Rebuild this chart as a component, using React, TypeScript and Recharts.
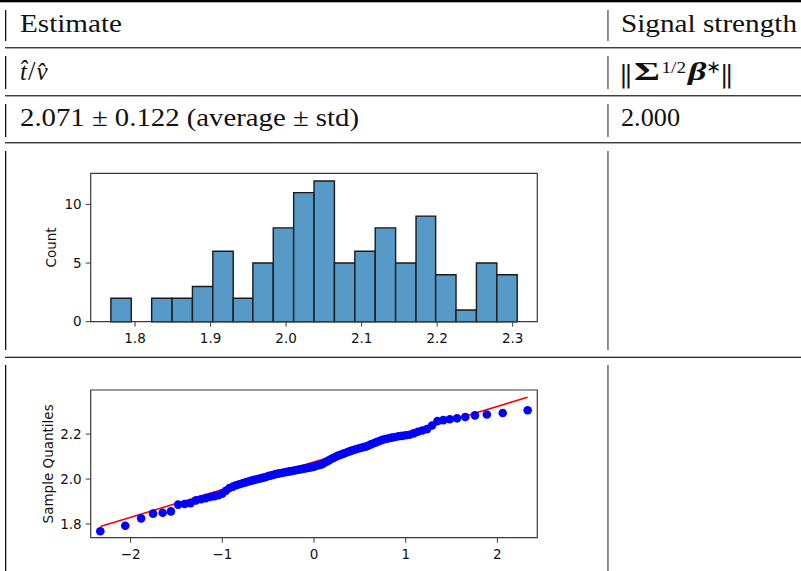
import {
  ComposedChart,
  Scatter,
  Line,
  XAxis,
  YAxis,
  ReferenceArea,
} from "recharts";

// histogram of the 100 estimates (20 bins)
const binEdges = [
  1.768, 1.795, 1.822, 1.849, 1.876, 1.903, 1.93, 1.956, 1.983, 2.01, 2.037,
  2.064, 2.091, 2.118, 2.145, 2.172, 2.198, 2.225, 2.252, 2.279, 2.306,
];
const binCounts = [2, 0, 2, 2, 3, 6, 2, 5, 8, 11, 12, 5, 6, 8, 5, 9, 4, 1, 5, 4];
const histTicks = [1.8, 1.9, 2.0, 2.1, 2.2, 2.3];
const countTicks = [0, 5, 10];

// normal probability plot
const theoreticalQuantiles = [
  -2.33, -2.058, -1.885, -1.755, -1.65, -1.56, -1.481, -1.41, -1.346, -1.287,
  -1.232, -1.181, -1.133, -1.087, -1.043, -1.001, -0.961, -0.922, -0.885, -0.849,
  -0.814, -0.779, -0.746, -0.714, -0.682, -0.651, -0.621, -0.591, -0.562, -0.533,
  -0.505, -0.477, -0.449, -0.422, -0.395, -0.368, -0.342, -0.316, -0.29, -0.264,
  -0.238, -0.213, -0.187, -0.162, -0.137, -0.112, -0.087, -0.062, -0.037, -0.012,
  0.012, 0.037, 0.062, 0.087, 0.112, 0.137, 0.162, 0.187, 0.213, 0.238,
  0.264, 0.29, 0.316, 0.342, 0.368, 0.395, 0.422, 0.449, 0.477, 0.505,
  0.533, 0.562, 0.591, 0.621, 0.651, 0.682, 0.714, 0.746, 0.779, 0.814,
  0.849, 0.885, 0.922, 0.961, 1.001, 1.043, 1.087, 1.133, 1.181, 1.232,
  1.287, 1.346, 1.41, 1.481, 1.56, 1.65, 1.755, 1.885, 2.058, 2.33,
];
const sampleQuantiles = [
  1.768, 1.792, 1.825, 1.846, 1.85, 1.856, 1.886, 1.889, 1.892, 1.905,
  1.91, 1.915, 1.92, 1.924, 1.928, 1.935, 1.948, 1.96, 1.966, 1.972,
  1.977, 1.981, 1.985, 1.989, 1.993, 1.996, 1.999, 2.002, 2.005, 2.008,
  2.012, 2.015, 2.018, 2.021, 2.024, 2.026, 2.028, 2.03, 2.032, 2.034,
  2.036, 2.038, 2.04, 2.042, 2.044, 2.046, 2.048, 2.05, 2.052, 2.054,
  2.057, 2.06, 2.063, 2.066, 2.071, 2.077, 2.083, 2.089, 2.094, 2.099,
  2.104, 2.108, 2.112, 2.116, 2.12, 2.124, 2.128, 2.131, 2.135, 2.138,
  2.141, 2.144, 2.148, 2.154, 2.159, 2.164, 2.169, 2.174, 2.178, 2.181,
  2.184, 2.187, 2.19, 2.192, 2.195, 2.197, 2.203, 2.21, 2.216, 2.222,
  2.238, 2.258, 2.262, 2.266, 2.27, 2.276, 2.283, 2.287, 2.294, 2.306,
];
const fitLineX = [-2.33, 2.33];
const fitLineY = [1.789, 2.364];
const qqXTicks = [-2, -1, 0, 1, 2];
const qqYTicks = [1.8, 2.0, 2.2];

const histData = binCounts.map((count, i) => ({
  lo: binEdges[i],
  hi: binEdges[i + 1],
  mid: (binEdges[i] + binEdges[i + 1]) / 2,
  count,
}));
const qqData = theoreticalQuantiles.map((x, i) => ({ x, y: sampleQuantiles[i] }));
const fitData = fitLineX.map((x, i) => ({ x, y: fitLineY[i] }));

const histX: [number, number] = [1.7413, 2.3326];
const histY: [number, number] = [0, 12.65];
const qqX: [number, number] = [-2.435, 2.435];
const qqY: [number, number] = [1.739, 2.396];

const axisColor = "#3a3a3a";
const tickFont = { fontFamily: "DejaVu Sans", fontSize: 13.5, fill: "#111" };
const labelStyle = { textAnchor: "middle", fontFamily: "DejaVu Sans", fontSize: 13.5, fill: "#111" };
const serif = "Liberation Serif";

const minus = (v: number) => (v < 0 ? `\u2212${Math.abs(v)}` : `${v}`);

function Dot(props: any) {
  const { cx, cy } = props;
  return <circle cx={cx} cy={cy} r={4.3} fill="#0000ff" />;
}

function TableFrame() {
  const rules = [47.7, 95.7, 142.7, 357.3];
  const segments = [
    [10, 41],
    [56, 89],
    [104, 137],
    [151, 350],
    [365, 571],
  ];
  return (
    <svg width={801} height={571} style={{ position: "absolute", left: 0, top: 0 }}>
      <rect x={0} y={0} width={801} height={2.3} fill="#000" />
      {rules.map((y) => (
        <rect key={y} x={5} y={y - 0.6} width={796} height={1.3} fill="#2a2a2a" />
      ))}
      {segments.map(([a, b]) => (
        <g key={a}>
          <rect x={5} y={a} width={1.3} height={b - a} fill="#111" />
          <rect x={607.3} y={a} width={1.3} height={b - a} fill="#555" />
        </g>
      ))}

      <g fill="#111" fontFamily={serif} fontSize={25}>
        <text x={20} y={32.3} textLength={102} lengthAdjust="spacingAndGlyphs">
          Estimate
        </text>
        <text x={621} y={32.3} textLength={176} lengthAdjust="spacingAndGlyphs">
          Signal strength
        </text>

        {/* \hat t / \hat v */}
        <text x={20} y={80}>
          <tspan fontStyle="italic">{"t\u0302"}</tspan>
          <tspan fontSize={27} dx={1}>/</tspan>
          <tspan fontStyle="italic" dx={1}>{"v\u0302"}</tspan>
        </text>

        {/* ||Sigma^{1/2} beta^*|| */}
        <text x={619.3} y={82} fontFamily="DejaVu Serif" fontSize={25} letterSpacing={-3.4}>||</text>
        <text x={634} y={80} fontWeight="bold" textLength={26} lengthAdjust="spacingAndGlyphs">Σ</text>
        <text x={661.5} y={72.5} fontSize={17.5} textLength={24.5} lengthAdjust="spacingAndGlyphs">1/2</text>
        <text x={688} y={80} fontWeight="bold" fontStyle="italic" textLength={18.5} lengthAdjust="spacingAndGlyphs">β</text>
        <text x={705.5} y={72.5} fontSize={17.5}>∗</text>
        <text x={720} y={82} fontFamily="DejaVu Serif" fontSize={25} letterSpacing={-3.4}>||</text>

        <text x={20} y={125.5} textLength={339} lengthAdjust="spacingAndGlyphs">
          2.071 ± 0.122 (average ± std)
        </text>
        <text x={621} y={125.5} textLength={59} lengthAdjust="spacingAndGlyphs">
          2.000
        </text>
      </g>
    </svg>
  );
}

function Histogram() {
  return (
    <div style={{ position: "absolute", left: 0, top: 150 }}>
      <ComposedChart
        width={560}
        height={200}
        data={histData}
        margin={{ top: 23.3, right: 22.7, bottom: 3.3, left: 0 }}
      >
        <XAxis
          dataKey="mid"
          type="number"
          domain={histX}
          allowDataOverflow
          ticks={histTicks}
          tickFormatter={(v: number) => v.toFixed(1)}
          height={25}
          axisLine={false}
          tickSize={5}
          tickMargin={7}
          tickLine={{ stroke: axisColor }}
          tick={tickFont}
          interval={0}
        />
        <YAxis
          type="number"
          domain={histY}
          allowDataOverflow
          ticks={countTicks}
          width={90.7}
          axisLine={false}
          tickSize={5}
          tickMargin={4}
          tickLine={{ stroke: axisColor }}
          tick={tickFont}
          interval={0}
          label={{ value: "Count", angle: -90, position: "insideLeft", offset: 51, style: labelStyle }}
        />
        {/* carries the bin data for the axes; the bars themselves are the areas below */}
        <Line dataKey="count" stroke="none" dot={false} activeDot={false} isAnimationActive={false} />
        {histData.map((d) => (
          <ReferenceArea
            key={d.lo}
            x1={d.lo}
            x2={d.hi}
            y1={0}
            y2={d.count}
            fill="#5799c7"
            fillOpacity={1}
            stroke="#1a1a1a"
            strokeWidth={1.4}
            ifOverflow="visible"
          />
        ))}
        <ReferenceArea
          x1={histX[0]}
          x2={histX[1]}
          y1={histY[0]}
          y2={histY[1]}
          fill="none"
          stroke={axisColor}
          strokeWidth={1.2}
          ifOverflow="visible"
        />
      </ComposedChart>
    </div>
  );
}

function QQPlot() {
  return (
    <div style={{ position: "absolute", left: 0, top: 360 }}>
      <ComposedChart
        width={560}
        height={211}
        margin={{ top: 30, right: 22.7, bottom: 8.3, left: 0 }}
      >
        <XAxis
          dataKey="x"
          type="number"
          domain={qqX}
          allowDataOverflow
          ticks={qqXTicks}
          tickFormatter={minus}
          height={25}
          axisLine={false}
          tickSize={5}
          tickMargin={7}
          tickLine={{ stroke: axisColor }}
          tick={tickFont}
          interval={0}
        />
        <YAxis
          dataKey="y"
          type="number"
          domain={qqY}
          allowDataOverflow
          ticks={qqYTicks}
          tickFormatter={(v: number) => v.toFixed(1)}
          width={90.7}
          axisLine={false}
          tickSize={5}
          tickMargin={4}
          tickLine={{ stroke: axisColor }}
          tick={tickFont}
          interval={0}
          label={{ value: "Sample Quantiles", angle: -90, position: "insideLeft", offset: 48, style: labelStyle }}
        />
        <Scatter data={qqData} shape={Dot} isAnimationActive={false} />
        <Line
          data={fitData}
          dataKey="y"
          type="linear"
          stroke="#ff0000"
          strokeWidth={1.6}
          dot={false}
          activeDot={false}
          isAnimationActive={false}
        />
        <ReferenceArea
          x1={qqX[0]}
          x2={qqX[1]}
          y1={qqY[0]}
          y2={qqY[1]}
          fill="none"
          stroke={axisColor}
          strokeWidth={1.2}
          ifOverflow="visible"
        />
      </ComposedChart>
    </div>
  );
}

export default function App() {
  return (
    <div
      style={{
        position: "absolute",
        left: 0,
        top: 0,
        width: 801,
        height: 571,
        background: "#fff",
        overflow: "hidden",
      }}
    >
      <TableFrame />
      <Histogram />
      <QQPlot />
    </div>
  );
}
